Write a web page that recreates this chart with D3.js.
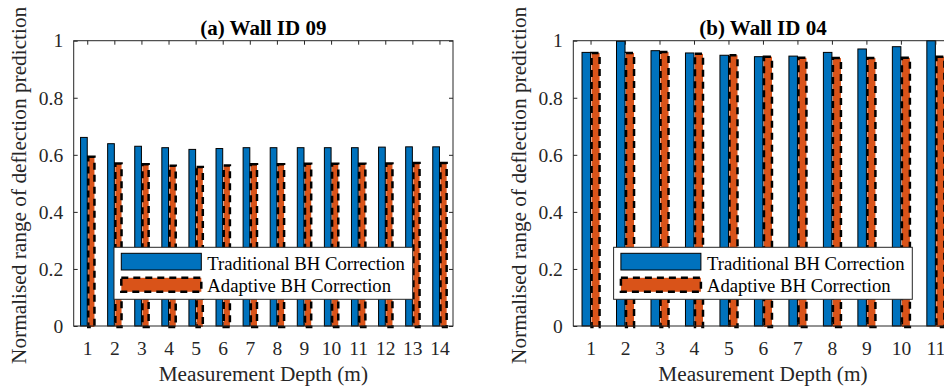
<!DOCTYPE html>
<html>
<head>
<meta charset="utf-8">
<script src="https://cdn.jsdelivr.net/npm/d3@7"></script>
<style>
  html, body { margin: 0; padding: 0; background: #fff; overflow: hidden; }
</style>
</head>
<body>
<svg id="chart" width="944" height="387"></svg>
<script>
// ---- data ----
const depthsA = [1, 2, 3, 4, 5, 6, 7, 8, 9, 10, 11, 12, 13, 14];
const traditionalA = [0.661, 0.639, 0.630, 0.625, 0.619, 0.622, 0.625, 0.625, 0.625, 0.625, 0.625, 0.627, 0.628, 0.628];
const adaptiveA    = [0.593, 0.570, 0.567, 0.562, 0.557, 0.563, 0.567, 0.567, 0.569, 0.569, 0.569, 0.570, 0.571, 0.571];

const depthsB = [1, 2, 3, 4, 5, 6, 7, 8, 9, 10, 11];
const traditionalB = [0.959, 0.998, 0.965, 0.957, 0.949, 0.944, 0.946, 0.959, 0.971, 0.979, 1.0];
const adaptiveB    = [0.957, 0.957, 0.960, 0.954, 0.949, 0.944, 0.940, 0.939, 0.939, 0.940, 0.944];

const yTicks = [0, 0.2, 0.4, 0.6, 0.8, 1];
const yTickLabels = ["0", "0.2", "0.4", "0.6", "0.8", "1"];
const seriesNames = ["Traditional BH Correction", "Adaptive BH Correction"];
const titles = ["(a) Wall ID 09", "(b) Wall ID 04"];
const xLabel = "Measurement Depth (m)";
const yLabel = "Normalised range of deflection prediction";

const BLUE = "#0072BD", ORANGE = "#D95319", AXIS = "#262626";
const FONT = "Liberation Serif, DejaVu Serif, serif";

const svg = d3.select("#chart");

function panel(opts) {
  const { left, width, top, bottom, depths, trad, adapt, title } = opts;
  const g = svg.append("g");
  const x = d3.scaleLinear().domain([0.5, depths.length + 0.5]).range([left, left + width]);
  const y = d3.scaleLinear().domain([0, 1]).range([bottom, top]);
  const half = 0.247;

  // bars
  g.append("g").selectAll("rect").data(depths).join("rect")
    .attr("x", (d) => x(d - half))
    .attr("width", (d) => x(d) - x(d - half))
    .attr("y", (d, i) => y(trad[i]))
    .attr("height", (d, i) => y(0) - y(trad[i]))
    .attr("fill", BLUE).attr("stroke", "#000").attr("stroke-width", 1);

  g.append("g").selectAll("rect").data(depths).join("rect")
    .attr("x", (d) => x(d) + 1)
    .attr("width", (d) => x(d + half) - x(d) - 0.5)
    .attr("y", (d, i) => y(adapt[i]))
    .attr("height", (d, i) => y(0) - y(adapt[i]) + 1)
    .attr("fill", ORANGE).attr("stroke", "#000").attr("stroke-width", 2.5)
    .attr("stroke-dasharray", "7,5");

  // axes
  const yL = d3.axisLeft(y).tickValues(yTicks).tickFormat((d, i) => yTickLabels[i]).tickSize(-4).tickPadding(10.5);
  const yR = d3.axisRight(y).tickValues(yTicks).tickFormat("").tickSize(-4);
  const xB = d3.axisBottom(x).tickValues(depths).tickFormat(d3.format("d")).tickSize(-4).tickPadding(15.5);
  const xT = d3.axisTop(x).tickValues(depths).tickFormat("").tickSize(-4);

  const style = (sel) => {
    sel.attr("font-family", FONT).attr("font-size", 19.5);
    sel.select(".domain").remove();
    sel.selectAll("line").attr("stroke", AXIS);
    sel.selectAll("text").attr("fill", AXIS);
  };
  g.append("g").attr("transform", `translate(${left},0)`).call(yL).call(style);
  g.append("g").attr("transform", `translate(${left + width},0)`).call(yR).call(style);
  g.append("g").attr("transform", `translate(0,${bottom})`).call(xB).call(style);
  g.append("g").attr("transform", `translate(0,${top})`).call(xT).call(style);

  g.append("rect").attr("x", left).attr("y", top).attr("width", width).attr("height", bottom - top)
    .attr("fill", "none").attr("stroke", AXIS).attr("stroke-width", 1);

  // title
  g.append("text").attr("x", left + width / 2).attr("y", 34.5).attr("text-anchor", "middle")
    .attr("font-family", FONT).attr("font-weight", "bold").attr("font-size", 21).attr("fill", "#000").text(title);

  // x label
  g.append("text").attr("x", left + width / 2).attr("y", 381).attr("text-anchor", "middle")
    .attr("font-family", FONT).attr("font-size", 21.3).attr("fill", AXIS).text(xLabel);

  // y label
  g.append("text").attr("transform", `translate(${left - 47.5},${(top + bottom) / 2 + 2}) rotate(-90)`)
    .attr("font-family", FONT).attr("text-anchor", "middle").attr("font-size", 21.3).attr("fill", AXIS).text(yLabel);

  // legend
  const lg = g.append("g").attr("transform", `translate(${left + 40.3},247.3)`);
  lg.append("rect").attr("width", 298.7).attr("height", 52).attr("fill", "#fff").attr("stroke", AXIS).attr("stroke-width", 1);
  lg.append("rect").attr("x", 7.3).attr("y", 6).attr("width", 80).attr("height", 16.7)
    .attr("fill", BLUE).attr("stroke", "#000").attr("stroke-width", 1);
  lg.append("rect").attr("x", 7.3).attr("y", 30.5).attr("width", 80).attr("height", 14)
    .attr("fill", ORANGE).attr("stroke", "#000").attr("stroke-width", 2.5).attr("stroke-dasharray", "7,5");
  lg.selectAll("text.leg").data(seriesNames).join("text").attr("class", "leg")
    .attr("x", 93.3).attr("y", (d, i) => 22.5 + i * 22.7)
    .attr("font-family", FONT).attr("font-size", 18.7).attr("fill", "#000").text((d) => d);
}

panel({ left: 73.7, width: 379.3, top: 40.7, bottom: 326, depths: depthsA, trad: traditionalA, adapt: adaptiveA, title: titles[0] });
panel({ left: 573.3, width: 379.3, top: 40.7, bottom: 326, depths: depthsB, trad: traditionalB, adapt: adaptiveB, title: titles[1] });
</script>
</body>
</html>
